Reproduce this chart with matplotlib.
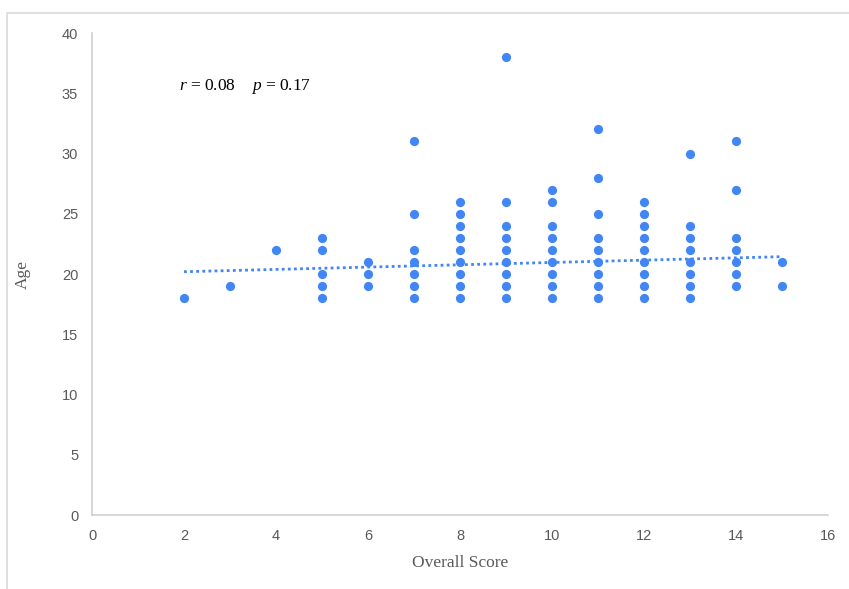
import numpy as np
import matplotlib
matplotlib.use('Agg')
import matplotlib.pyplot as plt
from matplotlib.lines import Line2D

# ages observed at each overall score (overlapping points shown once)
ages_by_score = {
    2: [18],
    3: [19],
    4: [22],
    5: [23, 22, 20, 19, 18],
    6: [21, 20, 19],
    7: [31, 25, 22, 21, 20, 19, 18],
    8: [26, 25, 24, 23, 22, 21, 20, 19, 18],
    9: [38, 26, 24, 23, 22, 21, 20, 19, 18],
    10: [27, 26, 24, 23, 22, 21, 20, 19, 18],
    11: [32, 28, 25, 23, 22, 21, 20, 19, 18],
    12: [26, 25, 24, 23, 22, 21, 20, 19, 18],
    13: [30, 24, 23, 22, 21, 20, 19, 18],
    14: [31, 27, 23, 22, 21, 20, 19],
    15: [21, 19],
}
# linear trendline (full data has many overlapping points)
trend_intercept = 20.0
trend_slope = 0.096
x_ticks = [0, 2, 4, 6, 8, 10, 12, 14, 16]
y_ticks = [0, 5, 10, 15, 20, 25, 30, 35, 40]
stats_text = r"$\mathit{r}$ = 0.08    $\mathit{p}$ = 0.17"

score = np.array([s for s, a in ages_by_score.items() for _ in a])
age = np.array([v for a in ages_by_score.values() for v in a])

blue = '#4285F4'
axis_grey = '#d0d0d0'
text_grey = '#595959'

plt.rcParams['mathtext.fontset'] = 'custom'
plt.rcParams['mathtext.it'] = 'Liberation Serif:italic'
plt.rcParams['mathtext.rm'] = 'Liberation Serif'

fig = plt.figure(figsize=(8.49, 5.89), dpi=100)
# chart-area border (only top and left edges are visible in the crop)
fig.lines.append(Line2D([7 / 849, 7 / 849, 1], [0, 576 / 589, 576 / 589],
                        transform=fig.transFigure, color='#d9d9d9', linewidth=1.2))
ax = fig.add_axes([0.1084, 0.1256, 0.8669, 0.8183])

ax.scatter(score, age, s=44, color=blue, zorder=3, linewidths=0)

xs = np.array([score.min(), score.max()])
ax.plot(xs, trend_intercept + trend_slope * xs, color=blue,
        linestyle=(0, (1, 1.2)), linewidth=2, zorder=2)

ax.set_xlim(0, 16)
ax.set_ylim(0, 40)
ax.set_xticks(x_ticks)
ax.set_yticks(y_ticks)
for sp in ['top', 'right']:
    ax.spines[sp].set_visible(False)
for sp in ['left', 'bottom']:
    ax.spines[sp].set_color(axis_grey)
    ax.spines[sp].set_linewidth(1.2)
ax.tick_params(length=0, pad=10, labelsize=10.5, labelcolor=text_grey)
for lab in ax.get_xticklabels() + ax.get_yticklabels():
    lab.set_fontfamily('Liberation Sans')

ax.set_xlabel('Overall Score', fontfamily='Liberation Serif', fontsize=12.5,
              color=text_grey, labelpad=9)
ax.set_ylabel('Age', fontfamily='Liberation Serif', fontsize=12.5,
              color=text_grey, labelpad=22)

ax.text(1.9, 35.6, stats_text, fontfamily='Liberation Serif', fontsize=12.5,
        color='black', va='center')

fig.savefig('out.png', dpi=100)
